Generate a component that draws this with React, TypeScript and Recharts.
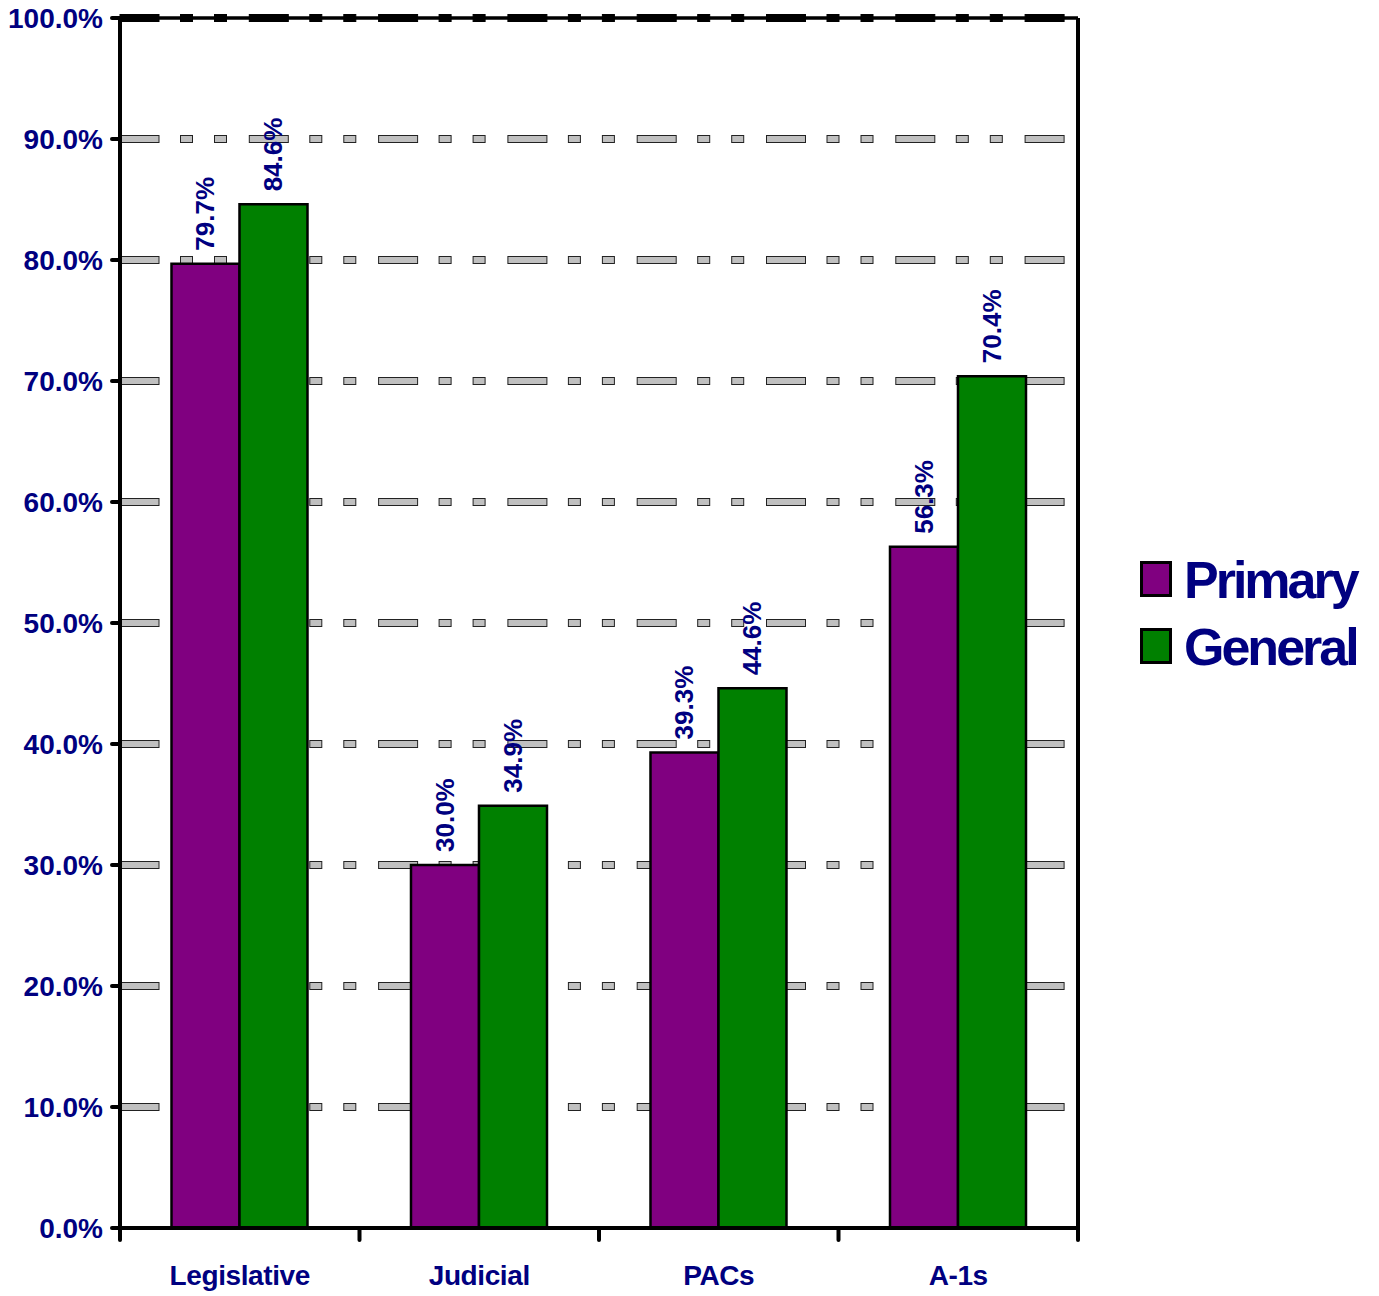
import React from 'react';
import { BarChart, Bar, XAxis, YAxis, CartesianGrid, LabelList, Customized } from 'recharts';

const categories = ['Legislative', 'Judicial', 'PACs', 'A-1s'];
const primaryValues = [79.7, 30.0, 39.3, 56.3];
const generalValues = [84.6, 34.9, 44.6, 70.4];
const yTicks = [0, 10, 20, 30, 40, 50, 60, 70, 80, 90, 100];
const seriesNames = ['Primary', 'General'];
const seriesColors = ['#800080', '#008000'];

const data = categories.map((name, i) => ({ name, primary: primaryValues[i], general: generalValues[i] }));

const NAVY = '#000080';
const FONT = '"Liberation Sans", Arial, sans-serif';

const GridLine = (props: any) => {
  const { x1, x2, y1, index } = props;
  const isTop = y1 < 25;
  if (Math.abs(y1 - 1228) < 2) return <g key={`g-${index}`} />;
  const period = 129.3;
  const segs: [number, number][] = [[0, 39], [60.5, 12], [94.5, 12]];
  const rects: any[] = [];
  for (let s = x1; s < x2; s += period) {
    segs.forEach(([o, w], j) => {
      const a = s + o;
      const b = Math.min(a + w, x2 - 12);
      if (b > a) rects.push(
        <rect key={`${s}-${j}`} x={a} y={y1 - 3.5} width={b - a} height={7}
          fill={isTop ? '#000' : '#c0c0c0'} stroke={isTop ? '#000' : '#222'} strokeWidth={1} />
      );
    });
  }
  return (
    <g key={`g-${index}`}>
      {isTop && <line x1={x1} y1={y1} x2={x2} y2={y1} stroke="#000" strokeWidth={3} />}
      {rects}
    </g>
  );
};

const XTick = (props: any) => {
  const { x, y, payload, index } = props;
  const half = 239.5 / 2;
  return (
    <g>
      <line x1={x - half} y1={y - 8} x2={x - half} y2={y + 4} stroke="#000" strokeWidth={4} strokeLinecap="round" />
      {index === categories.length - 1 && (
        <line x1={x + half} y1={y - 8} x2={x + half} y2={y + 4} stroke="#000" strokeWidth={4} strokeLinecap="round" />
      )}
      <text x={x} y={y + 39} textAnchor="middle" dominantBaseline="central" fill={NAVY}
        fontFamily={FONT} fontWeight="bold" fontSize={28} letterSpacing={-0.4}>{payload.value}</text>
    </g>
  );
};

const ValueLabel = (props: any) => {
  const { x, y, width, value } = props;
  const cx = x + width / 2;
  const cy = y - 13;
  return (
    <text x={cx} y={cy} transform={`rotate(-90, ${cx}, ${cy})`} textAnchor="start" dominantBaseline="central"
      fill={NAVY} fontFamily={FONT} fontWeight="bold" fontSize={26}>{Number(value).toFixed(1)}%</text>
  );
};

const LegendBlock = () => (
  <g>
    {seriesNames.map((n, i) => (
      <g key={n}>
        <rect x={1141.5} y={562.5 + i * 67} width={29} height={33} fill={seriesColors[i]} stroke="#000" strokeWidth={3} />
        <text x={1184} y={598 + i * 67} fill={NAVY} fontFamily={FONT} fontWeight="bold" fontSize={52} letterSpacing={-3}>{n}</text>
      </g>
    ))}
  </g>
);

export default function App() {
  return (
    <div style={{ position: 'absolute', left: 0, top: 0, width: 1379, height: 1296, background: '#fff' }}>
      <BarChart width={1379} height={1296} data={data} margin={{ top: 17, right: 300, bottom: 0, left: 0 }}
        barCategoryGap="21.5%" barGap={0}>
        <CartesianGrid vertical={false} horizontal={GridLine as any} />
        <XAxis dataKey="name" height={68} tick={<XTick />} tickLine={false}
          axisLine={{ stroke: '#000', strokeWidth: 4 }} interval={0} />
        <XAxis xAxisId="top" orientation="top" dataKey="name" height={1} tick={false} tickLine={false}
          axisLine={{ stroke: '#000', strokeWidth: 3 }} />
        <YAxis domain={[0, 100]} ticks={yTicks} width={120} interval={0}
          tickFormatter={(v: number) => `${v.toFixed(1)}%`}
          tick={{ fill: NAVY, fontFamily: FONT, fontWeight: 'bold', fontSize: 28 }}
          tickSize={8} tickMargin={9}
          tickLine={{ stroke: '#000', strokeWidth: 4, strokeLinecap: 'round' } as any}
          axisLine={{ stroke: '#000', strokeWidth: 4 }} />
        <YAxis yAxisId="right" orientation="right" domain={[0, 100]} width={1} tick={false} tickLine={false}
          axisLine={{ stroke: '#000', strokeWidth: 4 }} />
        <Bar dataKey="primary" name="Primary" fill={seriesColors[0]} stroke="#000" strokeWidth={2.5} isAnimationActive={false}>
          <LabelList dataKey="primary" content={<ValueLabel />} />
        </Bar>
        <Bar dataKey="general" name="General" fill={seriesColors[1]} stroke="#000" strokeWidth={2.5} isAnimationActive={false}>
          <LabelList dataKey="general" content={<ValueLabel />} />
        </Bar>
        <Customized component={<LegendBlock />} />
      </BarChart>
    </div>
  );
}
